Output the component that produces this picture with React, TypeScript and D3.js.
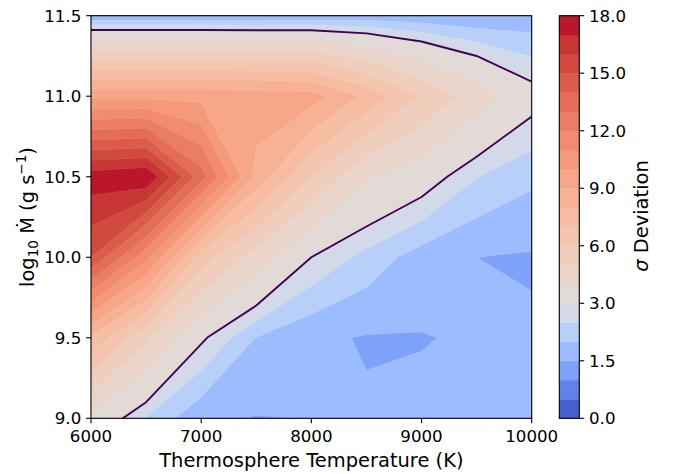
import React from 'react';
import * as d3 from 'd3';

// ---- data ----
const temperatures = [6000, 6500, 7000, 7500, 8000, 8500, 9000, 9500, 10000];
const logMdot = [9.0, 9.5, 10.0, 10.5, 11.0, 11.5];
const sigmaAt9_0 = [3.75, 2.45, 1.6, 1.48, 1.51, 1.55, 1.6, 1.7, 1.75];
const sigmaAt9_5 = [7.8, 5.2, 3.12, 1.98, 1.59, 1.466, 1.48, 1.55, 1.57];
const sigmaAt10_0 = [15.0, 11.3, 6.5, 4.53, 3.0, 2.32, 1.75, 1.5, 1.45];
const sigmaAt10_5 = [17.6, 17.95, 13.45, 8.63, 6.04, 4.1, 3.42, 2.52, 2.11];
const sigmaAt11_0 = [9.75, 9.75, 9.7, 9.6, 9.45, 7.75, 5.95, 4.45, 3.3];
const sigmaAt11_5 = [1.55, 1.55, 1.55, 1.55, 1.58, 1.66, 1.61, 1.55, 1.65];

const levels = [0, 0.5, 1, 1.5, 2, 2.5, 3, 4, 5, 6, 7, 8, 9, 10, 11, 12, 13, 14, 15, 16, 17, 18];
const lineLevel = 3;
const normCenter = 3;
const xTicks = [6000, 7000, 8000, 9000, 10000];
const yTicks = [9.0, 9.5, 10.0, 10.5, 11.0, 11.5];
const cbarTicks = [0, 1.5, 3, 6, 9, 12, 15, 18];

// coolwarm colormap (Moreland), 33 stops
const coolwarmStops = [
  [59, 76, 192], [68, 90, 204], [77, 104, 215], [87, 117, 225], [98, 130, 234],
  [108, 142, 241], [119, 154, 247], [130, 165, 251], [141, 176, 254], [152, 185, 255],
  [163, 194, 255], [174, 201, 253], [184, 208, 249], [194, 213, 244], [204, 217, 238],
  [213, 219, 230], [221, 221, 221], [229, 216, 209], [236, 211, 197], [241, 204, 185],
  [245, 196, 173], [247, 187, 160], [247, 177, 148], [247, 166, 135], [244, 154, 123],
  [241, 141, 111], [236, 127, 99], [229, 112, 88], [222, 96, 77], [213, 80, 66],
  [203, 62, 56], [192, 40, 47], [180, 4, 38],
];

function coolwarm(t: number): string {
  const u = Math.max(0, Math.min(1, t)) * (coolwarmStops.length - 1);
  const i = Math.min(Math.floor(u), coolwarmStops.length - 2);
  const f = u - i;
  const a = coolwarmStops[i], b = coolwarmStops[i + 1];
  const c = a.map((v, k) => Math.round(v + (b[k] - v) * f));
  return `rgb(${c[0]},${c[1]},${c[2]})`;
}

const vmin = levels[0];
const vmax = levels[levels.length - 1];
function norm(v: number): number {
  return v < normCenter
    ? 0.5 * (v - vmin) / (normCenter - vmin)
    : 0.5 + 0.5 * (v - normCenter) / (vmax - normCenter);
}

const W = 674, H = 474;
const plot = { left: 91, right: 531.7, top: 15.7, bottom: 418.3 };
const cbar = { left: 559.3, right: 579.3 };
const FONT = 'DejaVu Sans, sans-serif';

export default function App() {
  const nx = temperatures.length, ny = logMdot.length;
  const rows = [sigmaAt9_0, sigmaAt9_5, sigmaAt10_0, sigmaAt10_5, sigmaAt11_0, sigmaAt11_5];
  const values = rows.flat();

  const xs = d3.scaleLinear().domain([temperatures[0], temperatures[nx - 1]]).range([plot.left, plot.right]);
  const ys = d3.scaleLinear().domain([logMdot[0], logMdot[ny - 1]]).range([plot.bottom, plot.top]);
  const gx = d3.scaleLinear().domain([0.5, nx - 0.5]).range([temperatures[0], temperatures[nx - 1]]);
  const gy = d3.scaleLinear().domain([0.5, ny - 0.5]).range([logMdot[0], logMdot[ny - 1]]);

  const proj = d3.geoTransform({
    point(x: number, y: number) {
      (this as any).stream.point(xs(gx(x)), ys(gy(y)));
    },
  });
  const path = d3.geoPath(proj);

  const bandThresholds = levels.slice(0, -1);
  const gen = d3.contours().size([nx, ny]).thresholds(bandThresholds);
  const bands = gen(values);
  const bandColor = (i: number) => coolwarm(norm((levels[i] + levels[i + 1]) / 2));
  const line = d3.contours().size([nx, ny]).contour(values, lineLevel);

  const nb = levels.length - 1;
  const cbY = d3.scaleLinear().domain([0, nb]).range([plot.bottom, plot.top]);
  const idxOf = d3.scaleLinear().domain(levels).range(levels.map((_, i) => i));

  const tickLen = 4.86;
  const fmt1 = d3.format('.1f');

  return (
    <svg width={W} height={H} style={{ display: 'block', position: 'absolute', left: 0, top: 0 }}
      xmlns="http://www.w3.org/2000/svg">
      <rect x={0} y={0} width={W} height={H} fill="white" />
      <defs>
        <clipPath id="plotclip">
          <rect x={plot.left} y={plot.top} width={plot.right - plot.left} height={plot.bottom - plot.top} />
        </clipPath>
      </defs>
      <g clipPath="url(#plotclip)">
        {bands.map((b, i) => (
          <path key={i} d={path(b as any) || ''} fill={bandColor(i)} stroke={bandColor(i)} strokeWidth={0.3} />
        ))}
        {bands.slice(1).map((b, i) => (
          <path key={'s' + i} d={path(b as any) || ''} fill="none" stroke="#ffffff" strokeOpacity={0.22} strokeWidth={0.6} />
        ))}
        <path d={path(line as any) || ''} fill="none" stroke="#440154" strokeWidth={1.9} strokeLinejoin="round" />
      </g>
      {/* spines */}
      <rect x={plot.left} y={plot.top} width={plot.right - plot.left} height={plot.bottom - plot.top}
        fill="none" stroke="#000" strokeWidth={1.1} />
      {/* x ticks */}
      {xTicks.map((t) => (
        <g key={t}>
          <line x1={xs(t)} x2={xs(t)} y1={plot.bottom} y2={plot.bottom + tickLen} stroke="#000" strokeWidth={1.1} />
          <text x={xs(t)} y={plot.bottom + 23.5} fontFamily={FONT} fontSize={16.67} textAnchor="middle">{t}</text>
        </g>
      ))}
      {yTicks.map((t) => (
        <g key={t}>
          <line x1={plot.left - tickLen} x2={plot.left} y1={ys(t)} y2={ys(t)} stroke="#000" strokeWidth={1.1} />
          <text x={plot.left - 2 * tickLen} y={ys(t) + 6} fontFamily={FONT} fontSize={16.67} textAnchor="end">{fmt1(t)}</text>
        </g>
      ))}
      <text x={(plot.left + plot.right) / 2} y={466.5} fontFamily={FONT} fontSize={19.44} textAnchor="middle">
        Thermosphere Temperature (K)
      </text>
      <text transform={`translate(34,${(plot.top + plot.bottom) / 2}) rotate(-90)`} fontFamily={FONT} fontSize={19.44} textAnchor="middle">
        log<tspan fontSize={13.6} dy={4}>10</tspan><tspan dy={-4}> Ṁ (g s</tspan><tspan fontSize={13.6} dy={-8}>−1</tspan><tspan dy={8}>)</tspan>
      </text>
      {/* colorbar */}
      {d3.range(nb).map((i) => (
        <rect key={i} x={cbar.left} width={cbar.right - cbar.left} y={cbY(i + 1)} height={cbY(i) - cbY(i + 1) + 0.4}
          fill={bandColor(i)} />
      ))}
      <rect x={cbar.left} y={plot.top} width={cbar.right - cbar.left} height={plot.bottom - plot.top}
        fill="none" stroke="#000" strokeWidth={1.1} />
      {cbarTicks.map((t) => {
        const y = cbY(idxOf(t));
        return (
          <g key={t}>
            <line x1={cbar.right} x2={cbar.right + tickLen} y1={y} y2={y} stroke="#000" strokeWidth={1.1} />
            <text x={cbar.right + 2 * tickLen} y={y + 6} fontFamily={FONT} fontSize={16.67}>{fmt1(t)}</text>
          </g>
        );
      })}
      <text transform={`translate(647.5,216) rotate(-90)`} fontFamily={FONT} fontSize={19.44} textAnchor="middle">
        <tspan fontStyle="italic">σ</tspan> Deviation
      </text>
    </svg>
  );
}
